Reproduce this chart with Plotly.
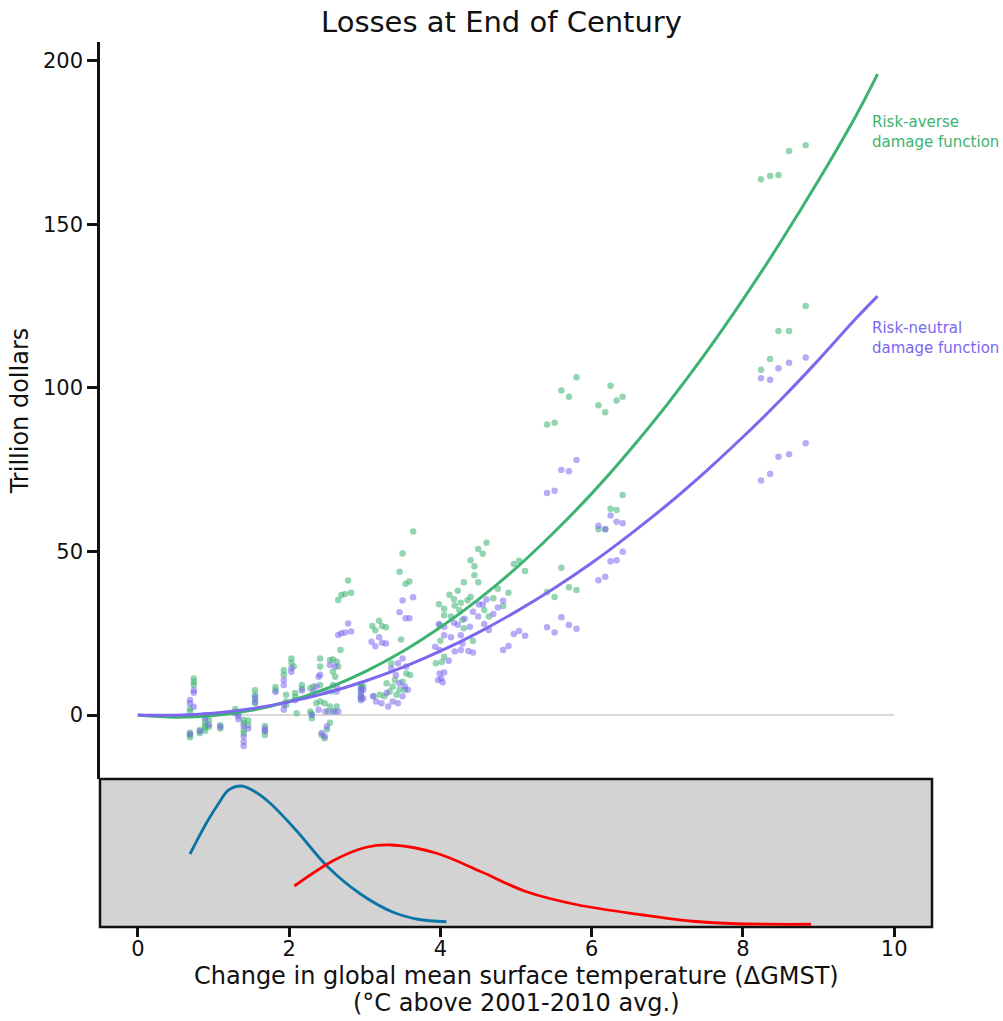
import plotly.graph_objects as go

# ---------------- data ----------------
# fitted damage curves (trillion $)
curve_temp = [0, 0.5, 1, 1.5, 2, 2.5, 3, 3.5, 4, 4.5, 5, 5.5, 6, 6.5, 7, 7.5, 8, 8.5, 9, 9.5, 9.78]
averse_curve = [0, -0.67, -0.19, 1.44, 4.22, 8.14, 13.2, 19.4, 26.8, 35.3, 44.9, 55.8, 67.7,
                80.8, 95.0, 110.4, 127.0, 144.7, 163.5, 183.5, 196.0]
neutral_curve = [0, -0.08, 0.57, 1.93, 4.01, 6.80, 10.32, 14.56, 19.5, 25.2, 31.6, 38.7, 46.5,
                 55.1, 64.3, 74.3, 85.0, 96.4, 108.6, 121.4, 128.1]

zero_x = [0, 10]
zero_y = [0, 0]

# scatter points (temperature, loss)
averse_points = [
    (0.69, 2.0), (0.69, 1.0), (0.69, -5.4), (0.69, -6.1), (0.69, -6.8),
    (0.74, 11.2), (0.74, 10.2), (0.74, 9.2),
    (0.82, -4.6), (0.82, -5.6),
    (0.89, -2.0), (0.89, -3.1), (0.89, -3.8), (0.89, -4.8),
    (0.94, -1.5), (0.94, -3.6),
    (1.09, -3.1), (1.09, -4.1),
    (1.29, 1.8), (1.29, 1.0), (1.33, 0.5),
    (1.40, -1.5), (1.40, -2.5), (1.40, -4.6), (1.40, -5.6),
    (1.46, -1.7), (1.46, -3.1),
    (1.55, 7.6), (1.55, 6.1), (1.55, 4.8), (1.55, 3.6),
    (1.68, -3.4), (1.68, -4.8), (1.68, -6.1),
    (1.82, 8.6), (1.82, 7.6),
    (1.93, 13.7), (1.93, 12.3), (1.96, 6.2), (1.96, 4.1), (1.96, 3.0),
    (2.03, 17.3), (2.06, 14.8), (2.03, 16.0),
    (2.08, 6.7), (2.08, 5.6), (2.10, 0.5),
    (2.17, 9.2), (2.17, 8.0),
    (2.28, 8.2), (2.28, 1.1), (2.30, 0.4), (2.30, -1.0),
    (2.32, 8.7), (2.36, 3.6), (2.41, 9.2), (2.41, 17.3), (2.41, 14.8), (2.41, 4.1),
    (2.43, -6.1), (2.47, -7.1), (2.50, -4.4), (2.54, -2.4),
    (2.47, 3.6), (2.52, 1.1), (2.54, 2.6), (2.54, 16.8), (2.56, 7.2), (2.58, 17.0),
    (2.58, 13.2), (2.58, 9.2), (2.61, 11.7), (2.61, 1.1), (2.63, 16.3), (2.63, 2.6),
    (2.65, 14.8), (2.65, 35.2), (2.68, 19.9), (2.69, 36.7), (2.74, 37.0), (2.78, 41.1), (2.82, 37.4),
    (2.95, 9.5), (2.95, 8.5), (2.95, 7.5), (2.95, 6.0), (2.95, 5.0), (2.98, 8.7),
    (3.10, 27.2), (3.14, 25.9), (3.19, 28.8), (3.23, 27.2), (3.28, 26.8),
    (3.12, 5.7), (3.20, 6.2), (3.26, 5.7), (3.29, 9.7), (3.33, 7.2), (3.35, 15.8), (3.37, 8.7),
    (3.40, 10.7), (3.42, 6.2), (3.46, 7.7), (3.48, 23.1), (3.50, 10.2), (3.53, 7.7), (3.55, 12.7), (3.60, 12.2),
    (3.46, 43.8), (3.50, 49.4), (3.54, 40.1), (3.59, 40.8), (3.64, 56.1),
    (3.94, 15.8), (4.02, 16.2), (4.05, 17.8), (4.00, 22.7), (4.31, 26.5), (4.43, 22.7),
    (3.98, 33.9), (4.05, 32.5), (4.05, 30.5), (4.12, 36.8), (4.14, 30.1), (4.18, 35.4), (4.19, 33.5),
    (4.23, 38.0), (4.27, 34.3), (4.31, 40.6), (4.36, 35.1), (4.40, 36.1), (4.40, 47.3), (4.45, 45.5),
    (4.45, 42.7), (4.50, 40.6), (4.50, 50.8), (4.56, 49.3), (4.61, 52.7), (4.58, 32.1), (4.64, 30.1),
    (4.70, 35.7), (4.76, 38.6), (4.83, 33.3), (4.90, 37.4), (4.97, 46.2), (5.04, 47.2), (5.12, 44.0),
    (3.99, 27.5), (4.25, 32.1), (4.29, 29.1),
    (5.41, 88.8), (5.51, 89.4), (5.60, 99.2), (5.70, 97.3), (5.80, 103.3),
    (5.41, 37.6), (5.51, 36.1), (5.60, 45.0), (5.70, 39.1), (5.80, 38.2),
    (6.09, 94.7), (6.18, 92.6), (6.25, 100.7), (6.33, 96.2), (6.41, 97.3),
    (6.09, 56.8), (6.18, 56.8), (6.25, 63.1), (6.33, 62.7), (6.41, 67.3),
    (8.24, 163.8), (8.36, 164.8), (8.47, 165.1), (8.61, 172.5), (8.83, 174.2),
    (8.24, 105.6), (8.36, 108.9), (8.47, 117.4), (8.61, 117.4), (8.83, 125.1),
]

neutral_points = [
    (0.69, 4.6), (0.69, 3.6), (0.69, -5.8), (0.74, 7.6), (0.74, 6.8), (0.74, 2.5),
    (0.82, -5.0), (0.89, 0.0), (0.89, -1.0), (0.94, -3.0), (1.09, -3.6),
    (1.29, 0.5), (1.33, -0.3), (1.33, -1.3),
    (1.40, -3.4), (1.40, -6.6), (1.40, -8.2), (1.40, -9.5), (1.46, -4.1),
    (1.55, 4.0), (1.55, 5.5), (1.68, -4.1), (1.68, -5.0),
    (1.82, 7.0), (1.93, 10.7), (1.93, 9.2), (1.93, 3.1), (1.93, 1.6),
    (2.03, 14.3), (2.03, 13.2), (2.08, 4.5), (2.17, 7.5),
    (2.30, 0.0), (2.36, 8.7), (2.32, 7.2), (2.39, 1.6), (2.39, 11.7), (2.41, 12.3), (2.43, -5.5),
    (2.47, -6.5), (2.48, 7.2), (2.48, 1.1), (2.50, -3.5), (2.54, 15.3), (2.58, 1.1), (2.61, 14.8),
    (2.63, 8.7), (2.63, 7.2), (2.65, 1.1),
    (2.65, 24.5), (2.69, 25.0), (2.74, 25.2), (2.78, 28.0), (2.82, 25.5),
    (2.95, 8.0), (2.95, 6.8), (2.95, 5.5), (2.95, 4.5), (2.98, 7.7), (2.98, 5.1),
    (3.09, 22.4), (3.14, 21.0), (3.19, 23.8), (3.23, 22.1), (3.28, 21.9),
    (3.11, 5.7), (3.15, 4.1), (3.22, 3.6), (3.29, 6.7), (3.31, 2.6), (3.35, 14.3), (3.37, 4.1),
    (3.41, 12.2), (3.44, 15.8), (3.44, 3.6), (3.46, 9.7), (3.50, 17.3), (3.50, 5.7), (3.53, 8.7),
    (3.55, 14.8), (3.57, 7.7),
    (3.46, 31.4), (3.50, 35.0), (3.54, 29.6), (3.59, 29.6), (3.64, 36.0),
    (3.93, 20.9), (3.99, 19.9), (4.11, 16.6), (4.19, 19.4), (4.27, 19.9), (4.37, 19.6), (4.43, 19.1),
    (4.05, 24.4), (4.14, 23.8), (4.27, 24.4), (4.29, 21.9),
    (3.98, 27.8), (4.05, 27.0), (4.18, 28.2), (4.23, 27.6), (4.32, 29.4), (4.39, 27.0), (4.43, 31.6),
    (4.50, 30.1), (4.51, 33.8), (4.56, 33.8), (4.61, 35.3), (4.58, 27.8), (4.64, 26.0), (4.70, 30.9),
    (4.76, 32.9), (4.83, 34.9),
    (4.83, 19.9), (4.90, 21.1), (4.97, 24.8), (5.04, 25.7), (5.12, 24.2),
    (3.99, 12.7), (4.01, 11.2), (3.97, 10.7), (4.03, 10.0), (4.05, 13.0),
    (5.41, 67.9), (5.51, 68.6), (5.60, 74.9), (5.70, 74.5), (5.80, 78.0),
    (5.41, 26.8), (5.51, 25.2), (5.60, 29.9), (5.70, 27.5), (5.80, 26.4),
    (6.09, 57.9), (6.18, 56.8), (6.25, 61.0), (6.33, 59.1), (6.41, 58.6),
    (6.09, 41.2), (6.18, 42.3), (6.25, 47.0), (6.33, 47.3), (6.41, 49.9),
    (8.24, 103.0), (8.36, 102.5), (8.47, 106.0), (8.61, 107.7), (8.83, 109.3),
    (8.24, 71.7), (8.36, 73.7), (8.47, 79.0), (8.61, 79.7), (8.83, 83.1),
]

# temperature distributions (density, bottom panel)
dist_a_temp = [0.69, 0.905, 1.07, 1.2, 1.37, 1.55, 1.75, 2.09, 2.51, 2.93, 3.36, 3.70, 4.08]
dist_a_dens = [0.281, 0.404, 0.484, 0.537, 0.553, 0.530, 0.484, 0.377, 0.230, 0.124, 0.050, 0.020, 0.010]
dist_b_temp = [2.07, 2.60, 3.02, 3.36, 3.95, 4.54, 5.14, 5.81, 6.66, 7.34, 7.93, 8.9]
dist_b_dens = [0.153, 0.257, 0.308, 0.317, 0.284, 0.210, 0.130, 0.078, 0.038, 0.012, 0.002, 0.0]

x_ticks = [0, 2, 4, 6, 8, 10]
y_ticks = [0, 50, 100, 150, 200]

x_title_lines = ['Change in global mean surface temperature (\u0394GMST)', '(\u00b0C above 2001-2010 avg.)']

GREEN = '#3cb371'
PURPLE = '#7b68ee'
INK = '#111111'
FONT = 'DejaVu Sans'

fig = go.Figure()

fig.add_trace(go.Scatter(x=zero_x, y=zero_y, mode='lines',
                         line=dict(color='#d9d9d9', width=2.2), xaxis='x', yaxis='y',
                         hoverinfo='skip', showlegend=False))
fig.add_trace(go.Scatter(x=[p[0] for p in averse_points], y=[p[1] for p in averse_points],
                         mode='markers', marker=dict(color=GREEN, size=6.5, opacity=0.55, line=dict(width=0)),
                         xaxis='x', yaxis='y', showlegend=False))
fig.add_trace(go.Scatter(x=[p[0] for p in neutral_points], y=[p[1] for p in neutral_points],
                         mode='markers', marker=dict(color=PURPLE, size=6.5, opacity=0.55, line=dict(width=0)),
                         xaxis='x', yaxis='y', showlegend=False))
fig.add_trace(go.Scatter(x=curve_temp, y=averse_curve, mode='lines', line=dict(color=GREEN, width=3, shape='spline'),
                         xaxis='x', yaxis='y', showlegend=False))
fig.add_trace(go.Scatter(x=curve_temp, y=neutral_curve, mode='lines', line=dict(color=PURPLE, width=3, shape='spline'),
                         xaxis='x', yaxis='y', showlegend=False))
fig.add_trace(go.Scatter(x=dist_a_temp, y=dist_a_dens, mode='lines',
                         line=dict(color='#0a74a6', width=2.8, shape='spline', smoothing=1.0),
                         xaxis='x2', yaxis='y2', showlegend=False))
fig.add_trace(go.Scatter(x=dist_b_temp, y=dist_b_dens, mode='lines',
                         line=dict(color='#ff0000', width=2.8, shape='spline', smoothing=1.0),
                         xaxis='x2', yaxis='y2', showlegend=False))

PLOT_H = 1021 - 42 - 94
split = 148 / PLOT_H

fig.update_layout(
    width=1003, height=1021,
    margin=dict(l=100, r=71, t=42, b=94, autoexpand=False),
    paper_bgcolor='white', plot_bgcolor='white',
    font=dict(family=FONT, color=INK, size=21),
    showlegend=False,
    title=dict(text='Losses at End of Century', x=0.5, xref='container', xanchor='center',
               y=1 - 22 / 1021, yref='container', yanchor='middle',
               font=dict(family=FONT, size=29, color=INK)),
    xaxis=dict(domain=[0, 1], anchor='y', range=[-0.5, 10.5], visible=False, matches='x2'),
    yaxis=dict(domain=[split, 1], anchor='x', range=[-19.57, 205.8], tickvals=y_ticks,
               showline=True, linecolor=INK, linewidth=2.5, ticks='outside', ticklen=10,
               tickwidth=2.5, tickcolor=INK, showgrid=False, zeroline=False, automargin=False,
               tickfont=dict(size=21),
               title=dict(text='Trillion dollars', font=dict(size=24), standoff=8)),
    xaxis2=dict(domain=[0, 1], anchor='y2', range=[-0.5, 10.5], tickvals=x_ticks,
                ticks='outside', ticklen=9, tickwidth=2.5, tickcolor=INK, automargin=False,
                ticklabelstandoff=-6,
                showline=False, showgrid=False, zeroline=False, tickfont=dict(size=21)),
    yaxis2=dict(domain=[0, split], anchor='x2', range=[-0.011, 0.581], visible=False),
    shapes=[dict(type='rect', xref='x2 domain', yref='y2 domain', x0=0, x1=1, y0=0, y1=1,
                 fillcolor='#d3d3d3', line=dict(color=INK, width=2.5), layer='below')],
    annotations=[
        dict(text='Risk-averse<br>damage function', x=9.68, y=178.3, xref='x', yref='y',
             xanchor='left', yanchor='middle', align='left', showarrow=False,
             font=dict(family=FONT, size=15, color=GREEN)),
        dict(text='Risk-neutral<br>damage function', x=9.68, y=115.3, xref='x', yref='y',
             xanchor='left', yanchor='middle', align='left', showarrow=False,
             font=dict(family=FONT, size=15, color=PURPLE)),
        dict(text=x_title_lines[0], x=0.5, y=-(976 - 927) / PLOT_H, xref='paper', yref='paper',
             xanchor='center', yanchor='middle', showarrow=False, font=dict(family=FONT, size=24, color=INK)),
        dict(text=x_title_lines[1], x=0.5, y=-(1003 - 927) / PLOT_H, xref='paper', yref='paper',
             xanchor='center', yanchor='middle', showarrow=False, font=dict(family=FONT, size=24, color=INK)),
    ],
)

fig.write_html('out.html')
